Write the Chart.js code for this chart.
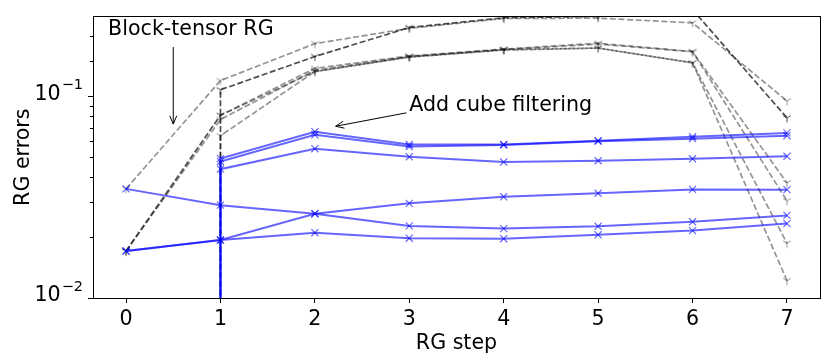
<!DOCTYPE html>
<html>
<head>
<meta charset="utf-8">
<script src="https://cdn.jsdelivr.net/npm/chart.js@4/dist/chart.umd.min.js"></script>
<style>
  html, body { margin: 0; padding: 0; background: #fff; }
  canvas { display: block; }
</style>
</head>
<body>
<canvas id="rgChart" width="830" height="363"></canvas>
<script>
'use strict';

// RG steps (x axis)
const STEPS = [0, 1, 2, 3, 4, 5, 6, 7];
// series that jump up from (almost) zero at step 1
const STEPS_FROM_ONE = [1, 1, 2, 3, 4, 5, 6, 7];
// y tick labels (decades): base and exponent
const Y_TICKS = [0.01, 0.1];
const Y_TICK_EXPONENTS = ['−2', '−1'];

// cube filtering (blue, solid)
const cubeA = [0.0348, 0.0289, 0.0262, 0.0228, 0.0221, 0.0227, 0.0239, 0.0257];
const cubeB = [0.0171, 0.0194, 0.0262, 0.0295, 0.0318, 0.0331, 0.0346, 0.0345];
const cubeC = [0.0171, 0.0194, 0.0211, 0.0198, 0.0197, 0.0206, 0.0216, 0.0234];
const cubeD = [1e-6, 0.0492, 0.0668, 0.0578, 0.0578, 0.0604, 0.0632, 0.0660];
const cubeE = [1e-6, 0.0476, 0.0646, 0.0565, 0.0575, 0.0600, 0.0618, 0.0639];
const cubeF = [1e-6, 0.0436, 0.0551, 0.0502, 0.0473, 0.0480, 0.0491, 0.0505];

// block-tensor RG (grey, dashed)
const blockA = [0.0348, 0.120, 0.183, 0.218, 0.244, 0.245, 0.232, 0.0951];
const blockB = [0.0171, 0.0807, 0.138, 0.159, 0.172, 0.184, 0.167, 0.0373];
const blockC = [0.0171, 0.0769, 0.135, 0.158, 0.171, 0.182, 0.167, 0.0304];
const blockD = [0.0171, 0.0807, 0.133, 0.157, 0.171, 0.174, 0.147, 0.0187];
const blockE = [1e-6, 0.0639, 0.133, 0.157, 0.170, 0.174, 0.147, 0.0122];
// darker block-tensor run
const blockDark = [1e-6, 0.108, 0.158, 0.220, 0.246, 0.250, 0.270, 0.0784];

const BLUE = 'rgba(0, 0, 255, 0.6)';
const GREY = 'rgba(0, 0, 0, 0.42)';
const DARK = 'rgba(0, 0, 0, 0.7)';
const FONT = { family: 'DejaVu Sans', size: 20.6 };
const SUP_SIZE = 14.5;

/**
 * tri_down マーカー（Y 字）をキャンバスに描く
 */
function makeTriDown(color) {
    const c = document.createElement('canvas');
    c.width = 12;
    c.height = 12;
    const g = c.getContext('2d');
    const r = 4.5;
    g.strokeStyle = color;
    g.lineWidth = 1;
    g.beginPath();
    g.moveTo(6, 6); g.lineTo(6, 6 + r);
    g.moveTo(6, 6); g.lineTo(6 - r * 0.866, 6 - r * 0.5);
    g.moveTo(6, 6); g.lineTo(6 + r * 0.866, 6 - r * 0.5);
    g.stroke();
    return c;
}

function toPoints(xs, ys) {
    return xs.map((x, i) => ({ x: x, y: ys[i] }));
}

// 下端（ほぼゼロ）の点にはマーカーを付けない
function radiusAboveAxis(r) {
    return ctx => (ctx.raw && ctx.raw.y >= 0.001 ? r : 0);
}

function cubeSet(xs, ys) {
    return {
        data: toPoints(xs, ys),
        borderColor: BLUE,
        borderWidth: 2,
        pointStyle: 'crossRot',
        pointRadius: radiusAboveAxis(5),
        pointBorderColor: BLUE,
        pointBorderWidth: 1.2,
        fill: false,
        tension: 0,
        order: 0
    };
}

function blockSet(xs, ys, color) {
    return {
        data: toPoints(xs, ys),
        borderColor: color,
        borderWidth: 1.7,
        borderDash: [6, 2.6],
        pointStyle: makeTriDown(color),
        pointRadius: radiusAboveAxis(6),
        fill: false,
        tension: 0,
        order: 1
    };
}

const datasets = [
    cubeSet(STEPS, cubeA),
    cubeSet(STEPS, cubeB),
    cubeSet(STEPS, cubeC),
    cubeSet(STEPS_FROM_ONE, cubeD),
    cubeSet(STEPS_FROM_ONE, cubeE),
    cubeSet(STEPS_FROM_ONE, cubeF),
    blockSet(STEPS, blockA, GREY),
    blockSet(STEPS, blockB, GREY),
    blockSet(STEPS, blockC, GREY),
    blockSet(STEPS, blockD, GREY),
    blockSet(STEPS_FROM_ONE, blockE, GREY),
    blockSet(STEPS_FROM_ONE, blockDark, DARK)
];

// 注釈（データ座標）
const annotations = [
    { text: 'Block-tensor RG', tx: -0.19, ty: 0.214, from: [0.5, 0.176], to: [0.5, 0.073] },
    { text: 'Add cube filtering', tx: 3.0, ty: 0.0905, from: [2.97, 0.083], to: [2.22, 0.0712] }
];

function drawArrow(g, x1, y1, x2, y2) {
    const ang = Math.atan2(y2 - y1, x2 - x1);
    const len = 9;
    const spread = 0.4;
    g.beginPath();
    g.moveTo(x1, y1);
    g.lineTo(x2, y2);
    g.moveTo(x2, y2);
    g.lineTo(x2 - len * Math.cos(ang - spread), y2 - len * Math.sin(ang - spread));
    g.moveTo(x2, y2);
    g.lineTo(x2 - len * Math.cos(ang + spread), y2 - len * Math.sin(ang + spread));
    g.stroke();
}

const framePlugin = {
    id: 'frame',
    afterDatasetsDraw(chart) {
        const g = chart.ctx;
        const a = chart.chartArea;
        const xs = chart.scales.x;
        const ys = chart.scales.y;
        g.save();
        // minor ticks on the log axis
        g.strokeStyle = '#000';
        g.lineWidth = 1;
        ys.ticks.forEach(t => {
            if (Y_TICKS.some(v => Math.abs(v - t.value) < 1e-9)) return;
            const py = Math.round(ys.getPixelForValue(t.value)) + 0.5;
            g.beginPath();
            g.moveTo(a.left - 3, py);
            g.lineTo(a.left, py);
            g.stroke();
        });
        // axes frame
        g.strokeRect(Math.round(a.left) + 0.5, Math.round(a.top) + 0.5,
            Math.round(a.right - a.left), Math.round(a.bottom - a.top));
        g.fillStyle = '#000';
        g.textBaseline = 'middle';
        // decade labels 10^n
        g.textAlign = 'right';
        Y_TICKS.forEach((v, i) => {
            const py = ys.getPixelForValue(v);
            const right = a.left - 10;
            g.font = `${SUP_SIZE}px "${FONT.family}"`;
            const supW = g.measureText(Y_TICK_EXPONENTS[i]).width;
            g.fillText(Y_TICK_EXPONENTS[i], right, py - 11);
            g.font = `${FONT.size}px "${FONT.family}"`;
            g.fillText('10', right - supW - 1, py - 2);
        });
        // annotations
        g.font = `${FONT.size}px "${FONT.family}"`;
        g.textAlign = 'left';
        annotations.forEach(n => {
            g.fillText(n.text, xs.getPixelForValue(n.tx), ys.getPixelForValue(n.ty));
            drawArrow(g,
                xs.getPixelForValue(n.from[0]), ys.getPixelForValue(n.from[1]),
                xs.getPixelForValue(n.to[0]), ys.getPixelForValue(n.to[1]));
        });
        g.restore();
    }
};

const config = {
    type: 'line',
    data: { datasets: datasets },
    options: {
        responsive: false,
        animation: false,
        events: [],
        layout: { padding: { top: 9, right: 10, left: 0, bottom: 0 } },
        plugins: {
            legend: { display: false },
            tooltip: { enabled: false }
        },
        scales: {
            x: {
                type: 'linear',
                min: -0.35,
                max: 7.35,
                afterBuildTicks: scale => {
                    scale.ticks = STEPS.map(v => ({ value: v }));
                },
                afterFit: scale => { scale.height = 65; },
                grid: {
                    drawOnChartArea: false,
                    drawTicks: true,
                    tickLength: 5,
                    tickColor: '#000'
                },
                border: { display: true, color: '#000' },
                ticks: {
                    color: '#000',
                    font: FONT,
                    padding: 4,
                    maxRotation: 0,
                    callback: v => String(v)
                },
                title: {
                    display: true,
                    text: 'RG step',
                    color: '#000',
                    font: FONT,
                    padding: { top: 0, bottom: 7 }
                }
            },
            y: {
                type: 'logarithmic',
                min: 0.01,
                max: 0.25,
                afterBuildTicks: scale => {
                    scale.ticks = scale.ticks.filter(t => t.value >= 0.01 && t.value < 0.25);
                },
                afterFit: scale => { scale.width = 93; },
                grid: {
                    drawOnChartArea: false,
                    drawTicks: true,
                    tickLength: 5,
                    tickColor: ctx => (Y_TICKS.some(v => Math.abs(v - ctx.tick.value) < 1e-9) ? '#000' : 'rgba(0,0,0,0)')
                },
                border: { display: true, color: '#000' },
                ticks: {
                    color: '#000',
                    font: FONT,
                    padding: 4,
                    autoSkip: false,
                    // labels are drawn by the frame plugin (10 with raised exponent)
                    callback: () => ''
                },
                title: {
                    display: true,
                    text: 'RG errors',
                    color: '#000',
                    font: FONT,
                    padding: { top: 11, bottom: 0 }
                }
            }
        }
    },
    plugins: [framePlugin]
};

const rgChart = new Chart(document.getElementById('rgChart'), config);
</script>
</body>
</html>
